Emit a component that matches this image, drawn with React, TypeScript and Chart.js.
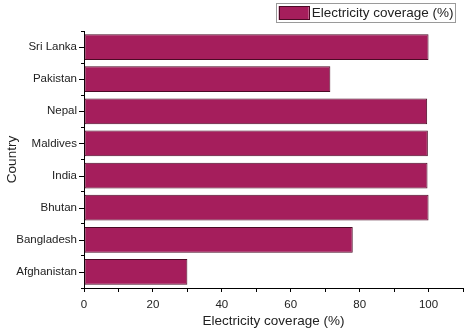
import React, { useEffect, useRef } from "react";
import { Chart, registerables } from "chart.js";

Chart.register(...registerables);

const countries = ["Sri Lanka", "Pakistan", "Nepal", "Maldives", "India", "Bhutan", "Bangladesh", "Afghanistan"];
const coverage = [100, 71.5, 99.6, 99.8, 99.7, 100, 78, 30];
const seriesLabel = "Electricity coverage (%)";
const xTitle = "Electricity coverage (%)";
const yTitle = "Country";

const FONT = "'Liberation Sans', Arial, sans-serif";
const BAR_COLOR = "#A51E5C";
const BAR_BORDER = "#4a0a25";

const extrasPlugin = {
  id: "extras",
  afterDraw(chart: any) {
    const ctx = chart.ctx;
    const y = chart.scales.y;
    const area = chart.chartArea;
    ctx.save();
    ctx.strokeStyle = "#000";
    ctx.lineWidth = 1;
    // major ticks at category centers
    for (let i = 0; i < countries.length; i++) {
      const py = Math.round(y.getPixelForValue(i)) + 0.5;
      ctx.beginPath();
      ctx.moveTo(area.left - 5, py);
      ctx.lineTo(area.left, py);
      ctx.stroke();
    }
    // legend
    ctx.font = `13.5px ${FONT}`;
    const tw = ctx.measureText(seriesLabel).width;
    const right = 455.5;
    const textX = right - 2 - tw;
    const swRight = textX - 3;
    const swLeft = swRight - 30;
    const boxLeft = Math.round(swLeft) - 2.5;
    ctx.strokeStyle = "#9a9a9a";
    ctx.strokeRect(boxLeft, 3.5, right - boxLeft, 19);
    ctx.fillStyle = BAR_COLOR;
    ctx.fillRect(swLeft, 6, 30, 14);
    ctx.strokeStyle = BAR_BORDER;
    ctx.strokeRect(Math.round(swLeft) + 0.5, 6.5, 30, 13);
    ctx.fillStyle = "#222";
    ctx.textBaseline = "middle";
    ctx.textAlign = "left";
    ctx.fillText(seriesLabel, textX, 13.5);
    ctx.restore();
  },
};

export default function App() {
  const ref = useRef<HTMLCanvasElement | null>(null);
  useEffect(() => {
    document.body.style.margin = "0";
    const chart = new Chart(ref.current as HTMLCanvasElement, {
      type: "bar",
      data: {
        labels: countries,
        datasets: [
          {
            label: seriesLabel,
            data: coverage,
            backgroundColor: BAR_COLOR,
            borderColor: BAR_BORDER,
            borderWidth: 1,
            borderSkipped: false,
            categoryPercentage: 0.8,
            barPercentage: 1,
          },
        ],
      },
      options: {
        indexAxis: "y",
        animation: false,
        responsive: false,
        maintainAspectRatio: false,
        layout: { padding: { top: 31, right: 2, left: 0, bottom: 0 } },
        plugins: {
          legend: { display: false },
          tooltip: { enabled: false },
        },
        scales: {
          x: {
            min: 0,
            max: 110,
            afterFit: (s: any) => {
              s.height = 45;
              s.paddingLeft = 0;
              s.paddingRight = 0;
            },
            ticks: {
              stepSize: 10,
              color: "#222",
              font: { family: FONT, size: 11.5 },
              maxRotation: 0,
              autoSkip: false,
              padding: 6,
              callback: (v: any) => (Number(v) % 20 === 0 && Number(v) <= 100 ? String(v) : ""),
            },
            grid: { drawOnChartArea: false, drawTicks: true, tickLength: 4, color: "#000" },
            border: { color: "#000", width: 1 },
            title: { display: true, text: xTitle, color: "#222", font: { family: FONT, size: 13.5 }, padding: { top: 1, bottom: 4 } },
          },
          y: {
            afterFit: (s: any) => {
              s.width = 84;
              s.paddingTop = 0;
              s.paddingBottom = 0;
            },
            ticks: { color: "#222", font: { family: FONT, size: 11.5 }, padding: 4 },
            grid: { drawOnChartArea: false, drawTicks: true, tickLength: 3, color: "#000", offset: true },
            border: { color: "#000", width: 1 },
            title: { display: true, text: yTitle, color: "#222", font: { family: FONT, size: 13.5 }, padding: { top: 4, bottom: 0 } },
          },
        },
      },
      plugins: [extrasPlugin],
    } as any);
    return () => chart.destroy();
  }, []);
  return (
    <div style={{ width: 465, height: 333 }}>
      <canvas ref={ref} width={465} height={333} style={{ display: "block" }} />
    </div>
  );
}
